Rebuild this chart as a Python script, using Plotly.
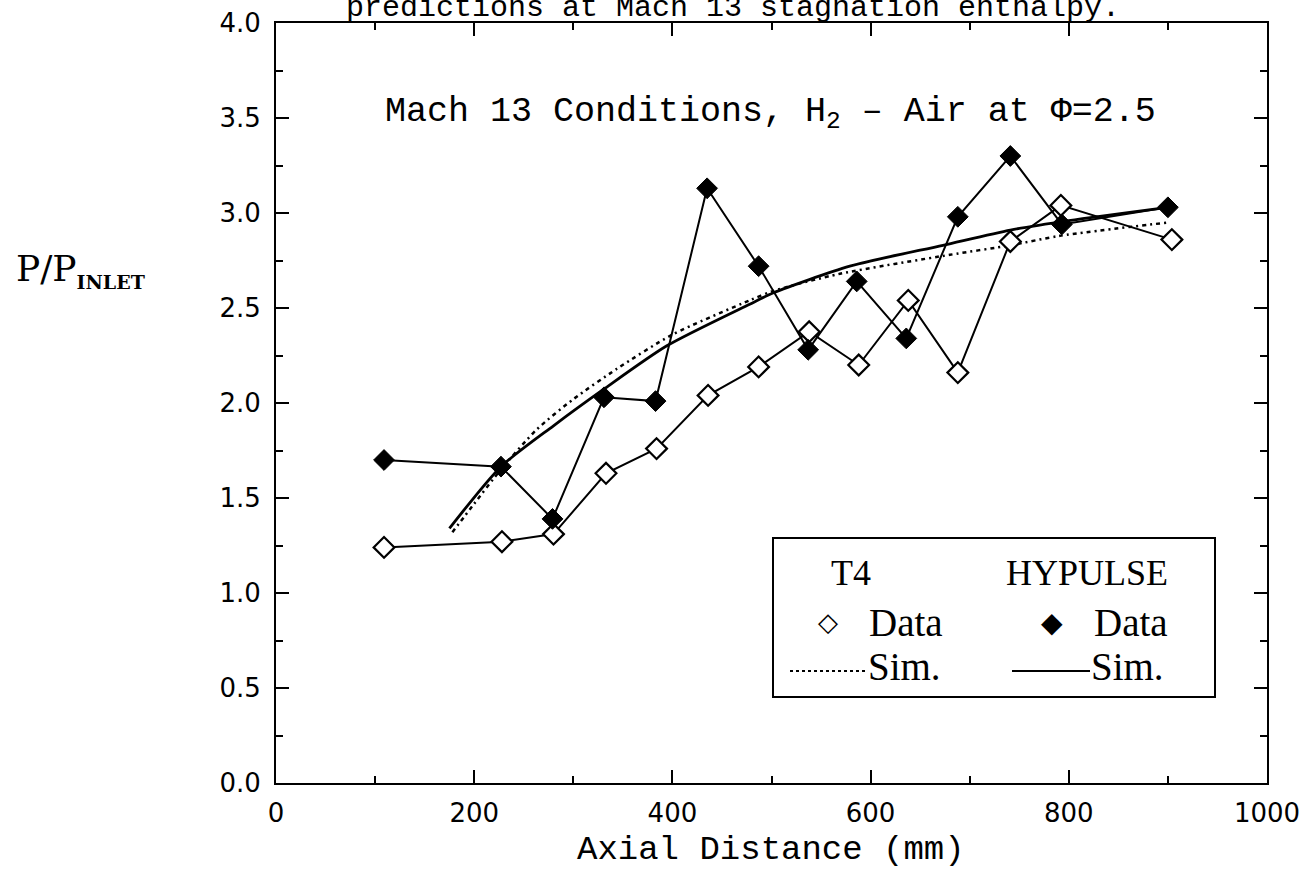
import plotly.graph_objects as go

# ---------------- data ----------------
x_tickvals = [0, 200, 400, 600, 800, 1000]
x_ticktext = ["0", "200", "400", "600", "800", "1000"]
y_tickvals = [0.0, 0.5, 1.0, 1.5, 2.0, 2.5, 3.0, 3.5, 4.0]
y_ticktext = ["0.0", "0.5", "1.0", "1.5", "2.0", "2.5", "3.0", "3.5", "4.0"]

t4_x = [109, 228, 280, 333, 384, 436, 487, 538, 588, 638, 688, 741, 792, 904]
t4_y = [1.24, 1.27, 1.31, 1.63, 1.76, 2.04, 2.19, 2.375, 2.20, 2.54, 2.16, 2.85, 3.04, 2.86]

hy_x = [109, 227, 279, 331, 383, 435, 487, 537, 586, 636, 688, 741, 793, 900]
hy_y = [1.70, 1.665, 1.39, 2.03, 2.01, 3.13, 2.72, 2.28, 2.64, 2.34, 2.98, 3.30, 2.94, 3.03]

t4_sim_x = [178, 200, 227, 263, 300, 344, 400, 478, 502, 569, 680, 741, 791, 900]
t4_sim_y = [1.32, 1.47, 1.65, 1.86, 2.02, 2.18, 2.36, 2.54, 2.59, 2.68, 2.78, 2.83, 2.88, 2.95]

hy_sim_x = [175, 227, 280, 330, 394, 478, 502, 579, 673, 741, 800, 900]
hy_sim_y = [1.34, 1.665, 1.88, 2.07, 2.30, 2.52, 2.58, 2.72, 2.83, 2.91, 2.96, 3.03]

MONO = "Liberation Mono, Courier New, monospace"
SERIF = "Liberation Serif, Times New Roman, serif"
DSERIF = "DejaVu Serif, serif"
TICKF = "DejaVu Sans, Arial, sans-serif"

fig = go.Figure()

fig.add_trace(go.Scatter(x=t4_sim_x, y=t4_sim_y, mode="lines", showlegend=False,
                         line=dict(color="black", width=2.5, dash="4px,4px,2px,4px", shape="spline", smoothing=0.7)))
fig.add_trace(go.Scatter(x=hy_sim_x, y=hy_sim_y, mode="lines", showlegend=False,
                         line=dict(color="black", width=2.8, shape="spline", smoothing=0.7)))
fig.add_trace(go.Scatter(x=t4_x, y=t4_y, mode="lines+markers", showlegend=False,
                         line=dict(color="black", width=2),
                         marker=dict(symbol="diamond", size=16, color="white",
                                     line=dict(color="black", width=2.2))))
fig.add_trace(go.Scatter(x=hy_x, y=hy_y, mode="lines+markers", showlegend=False,
                         line=dict(color="black", width=2),
                         marker=dict(symbol="diamond", size=16, color="black",
                                     line=dict(color="black", width=1))))

axis_common = dict(
    ticks="inside", tickwidth=2, tickcolor="black",
    showline=True, linewidth=2, linecolor="black", mirror="ticks",
    showgrid=False, zeroline=False,
    tickfont=dict(family=TICKF, size=26, color="black"),
)

fig.update_xaxes(range=[0, 1000], tickvals=x_tickvals, ticktext=x_ticktext, ticklen=13,
                 ticklabelstandoff=6,
                 minor=dict(dtick=100, tick0=0, ticks="inside", ticklen=7, tickwidth=2, tickcolor="black"),
                 **axis_common)
fig.update_yaxes(range=[0, 4], tickvals=y_tickvals, ticktext=y_ticktext, ticklen=13,
                 ticklabelstandoff=8,
                 minor=dict(dtick=0.25, tick0=0, ticks="inside", ticklen=7, tickwidth=2, tickcolor="black"),
                 **axis_common)

L, R, T, B = 276, 36, 23, 90
W, H = 1303, 873
PW, PH = W - L - R, H - T - B


def px(xp):
    return (xp - L) / PW


def py(yp):
    return (H - B - yp) / PH


annotations = [
    dict(text="predictions at Mach 13 stagnation enthalpy.", x=px(733), y=py(8),
         xref="paper", yref="paper", xanchor="center", yanchor="middle", showarrow=False,
         font=dict(family=MONO, size=30, color="black")),
    dict(text="Mach 13 Conditions, H<sub>2</sub> \u2013 Air at \u03a6=2.5", x=px(770), y=py(113),
         xref="paper", yref="paper", xanchor="center", yanchor="middle", showarrow=False,
         font=dict(family=MONO, size=35, color="black")),
    dict(text="Axial Distance (mm)", x=px(771), y=py(850),
         xref="paper", yref="paper", xanchor="center", yanchor="middle", showarrow=False,
         font=dict(family=MONO, size=34, color="black")),
    dict(text="P/P<sub><b><span style='font-size:19px'>INLET</span></b></sub>", x=px(14), y=py(270),
         xref="paper", yref="paper", xanchor="left", yanchor="middle", showarrow=False,
         font=dict(family=DSERIF, size=36, color="black")),
    # legend texts
    dict(text="T4", x=px(851), y=py(573), xref="paper", yref="paper", xanchor="center", yanchor="middle",
         showarrow=False, font=dict(family=SERIF, size=36, color="black")),
    dict(text="HYPULSE", x=px(1087), y=py(573), xref="paper", yref="paper", xanchor="center", yanchor="middle",
         showarrow=False, font=dict(family=SERIF, size=36, color="black")),
    dict(text="\u25c7", x=px(828), y=py(622), xref="paper", yref="paper", xanchor="center", yanchor="middle",
         showarrow=False, font=dict(family="DejaVu Sans", size=26, color="black")),
    dict(text="Data", x=px(867), y=py(622), xref="paper", yref="paper", xanchor="left", yanchor="middle",
         showarrow=False, font=dict(family=SERIF, size=39, color="black")),
    dict(text="\u25c6", x=px(1052), y=py(622), xref="paper", yref="paper", xanchor="center", yanchor="middle",
         showarrow=False, font=dict(family="DejaVu Sans", size=28, color="black")),
    dict(text="Data", x=px(1092), y=py(622), xref="paper", yref="paper", xanchor="left", yanchor="middle",
         showarrow=False, font=dict(family=SERIF, size=39, color="black")),
    dict(text="Sim.", x=px(866), y=py(666), xref="paper", yref="paper", xanchor="left", yanchor="middle",
         showarrow=False, font=dict(family=SERIF, size=39, color="black")),
    dict(text="Sim.", x=px(1089), y=py(666), xref="paper", yref="paper", xanchor="left", yanchor="middle",
         showarrow=False, font=dict(family=SERIF, size=39, color="black")),
]

shapes = [
    dict(type="rect", xref="paper", yref="paper", x0=px(773), x1=px(1215), y0=py(697), y1=py(538),
         line=dict(color="black", width=2), fillcolor="white", layer="above"),
    dict(type="line", xref="paper", yref="paper", x0=px(790), x1=px(866), y0=py(671), y1=py(671),
         line=dict(color="black", width=2, dash="dot"), layer="above"),
    dict(type="line", xref="paper", yref="paper", x0=px(1012), x1=px(1090), y0=py(671), y1=py(671),
         line=dict(color="black", width=2), layer="above"),
]

fig.update_layout(
    width=W, height=H,
    margin=dict(l=L, r=R, t=T, b=B, autoexpand=False),
    plot_bgcolor="white", paper_bgcolor="white",
    showlegend=False,
    annotations=annotations,
    shapes=shapes,
)

fig.write_html("out.html", config={"displayModeBar": False},
               post_script="document.body.style.margin='0px';")
